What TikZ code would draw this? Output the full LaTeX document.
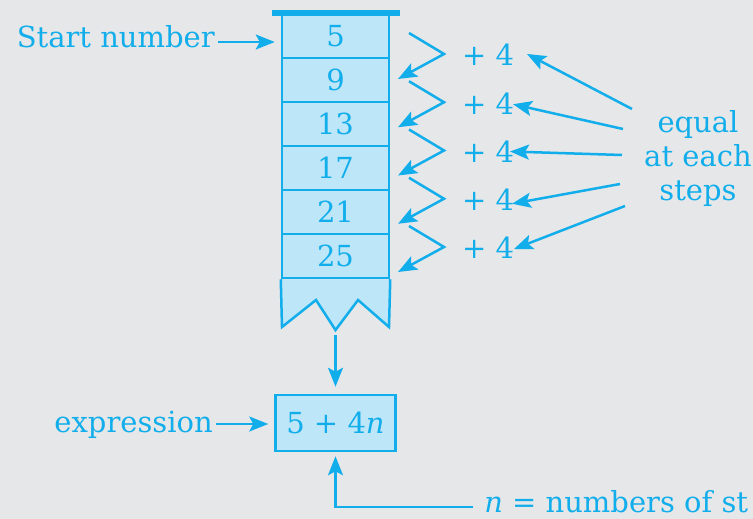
\documentclass[tikz,border=0pt]{standalone}
\usepackage{fontspec}
\setmainfont{DejaVu Serif}
\usetikzlibrary{arrows.meta,calc}
\definecolor{ncblue}{HTML}{12AEEB}
\definecolor{ncfill}{HTML}{BDE6F9}
\definecolor{ncbg}{HTML}{E6E7E9}
\tikzset{txt/.style={font=\fontsize{29}{34}\selectfont,text=ncblue,inner sep=2pt},
  cell/.style={txt,draw,fill=ncfill,minimum width=107pt,minimum height=44pt,inner sep=0pt}}

\begin{document}
\begin{tikzpicture}[x=1pt,y=-1pt,color=ncblue,line width=2.5pt,
  >={Stealth[length=19pt,width=15pt,inset=4pt]}]
\fill[ncbg] (0,0) rectangle (753,519);
\clip (0,0) rectangle (753,519);
% the column of numbers
\foreach \v [count=\i] in {5,9,13,17,21,25}
  \node[cell] (c\i) at (335.5,{36+44*(\i-1)}) {\v};
\filldraw[fill=ncfill] (c6.south west) -- (282,327) -- (316,300) -- (335.5,330) coordinate (tail)
  -- (358,300) -- (389,327) -- (c6.south east);
\draw[line width=6pt] ([xshift=-9pt]c1.north west) -- ([xshift=10pt]c1.north east);
\node[txt,anchor=base east] (start) at (218,48) {Start number};
\draw[->] ([yshift=6pt]start.base east) -- ([yshift=6pt,xshift=-6pt]start.base east -| c1.west);
% steps
\foreach \k in {1,...,5}
  \node[txt] (p\k) at (488,{55+48.25*(\k-1)}) {+ 4};
\foreach \k in {1,...,5}
  \draw[->] ($(p\k)+(-79,-22)$) -- ($(p\k)+(-44,-1)$) -- ($(p\k)+(-90,24)$);
\node[txt,align=center] (eq) at (698,158) {equal\\at each\\steps};
\foreach \k/\sx/\sy/\tx/\ty in {1/-66/-49/39/-1,2/-75/-29/25/1,3/-76/-3/22/0,4/-78/26/24/4,5/-73/48/26/1}
  \draw[->] ($(eq)+(\sx,\sy)$) -- ($(p\k)+(\tx,\ty)$);
% the expression
\node[txt,draw,fill=ncfill,minimum width=120pt,minimum height=56pt] (ex) at (335.5,423) {5 + 4\textit{n}};
\draw[->] ([yshift=-5pt]tail) -- ([yshift=7pt]ex.north);
\node[txt,anchor=base east] (exl) at (216,432) {expression};
\draw[->] ([yshift=8pt]exl.base east) -- ([yshift=8pt,xshift=-6pt]exl.base east -| ex.west);
\node[txt,anchor=base west] (nl) at (481,512) {\textit{n} = numbers of st};
\draw[->] ([xshift=-8pt,yshift=5pt]nl.base west) -- ([yshift=5pt]nl.base west -| ex.south)
  -- ([yshift=-4pt]ex.south);
\end{tikzpicture}
\end{document}
